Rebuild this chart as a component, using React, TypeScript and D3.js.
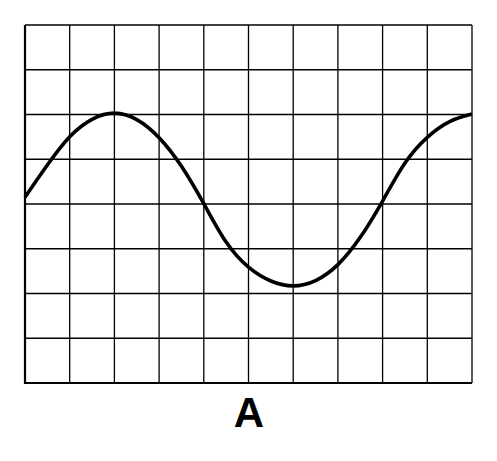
import React from "react";
import * as d3 from "d3";

const colTicks = [0, 1, 2, 3, 4, 5, 6, 7, 8, 9, 10];
const rowTicks = [0, 1, 2, 3, 4, 5, 6, 7, 8];
const waveX = [0, 0.5, 1, 1.5, 2, 2.5, 3, 3.5, 4, 4.5, 5, 5.5, 6, 6.5, 7, 7.5, 8, 8.5, 9, 9.5, 10];
const waveY = [4.15, 4.88, 5.55, 5.93, 6.08, 5.93, 5.52, 4.88, 4.02, 3.08, 2.55, 2.25, 2.13, 2.25, 2.6, 3.22, 4.05, 4.98, 5.52, 5.88, 6.01];
const label = "A";

const W = 497;
const H = 461;

export default function App() {
  const x = d3.scaleLinear().domain([0, 10]).range([25, 472]);
  const y = d3.scaleLinear().domain([0, 8]).range([383, 25]);
  const pts: [number, number][] = waveX.map((v, i) => [v, waveY[i]]);
  const line = d3
    .line<[number, number]>()
    .x((d) => x(d[0]))
    .y((d) => y(d[1]))
    .curve(d3.curveBasis);

  return (
    <svg
      width={W}
      height={H}
      style={{ position: "absolute", left: 0, top: 0, background: "#fff" }}
    >
      <rect x={0} y={0} width={W} height={H} fill="#fff" />
      {colTicks.map((c) => (
        <line key={"c" + c} x1={x(c)} x2={x(c)} y1={y(0)} y2={y(8)} stroke="#000" strokeWidth={1.3} />
      ))}
      {rowTicks.map((r) => (
        <line key={"r" + r} x1={x(0)} x2={x(10)} y1={y(r)} y2={y(r)} stroke="#000" strokeWidth={1.3} />
      ))}
      <line x1={x(0)} x2={x(0)} y1={y(0) + 1} y2={y(8)} stroke="#000" strokeWidth={2.2} />
      <line x1={x(0)} x2={x(10)} y1={y(0)} y2={y(0)} stroke="#000" strokeWidth={2.2} />
      <path d={line(pts) || ""} fill="none" stroke="#000" strokeWidth={3.6} strokeLinecap="butt" />
      <text
        x={249}
        y={427}
        textAnchor="middle"
        fontFamily="'Liberation Sans', Arial, sans-serif"
        fontWeight="bold"
        fontSize={42}
        fill="#000"
      >
        {label}
      </text>
    </svg>
  );
}
